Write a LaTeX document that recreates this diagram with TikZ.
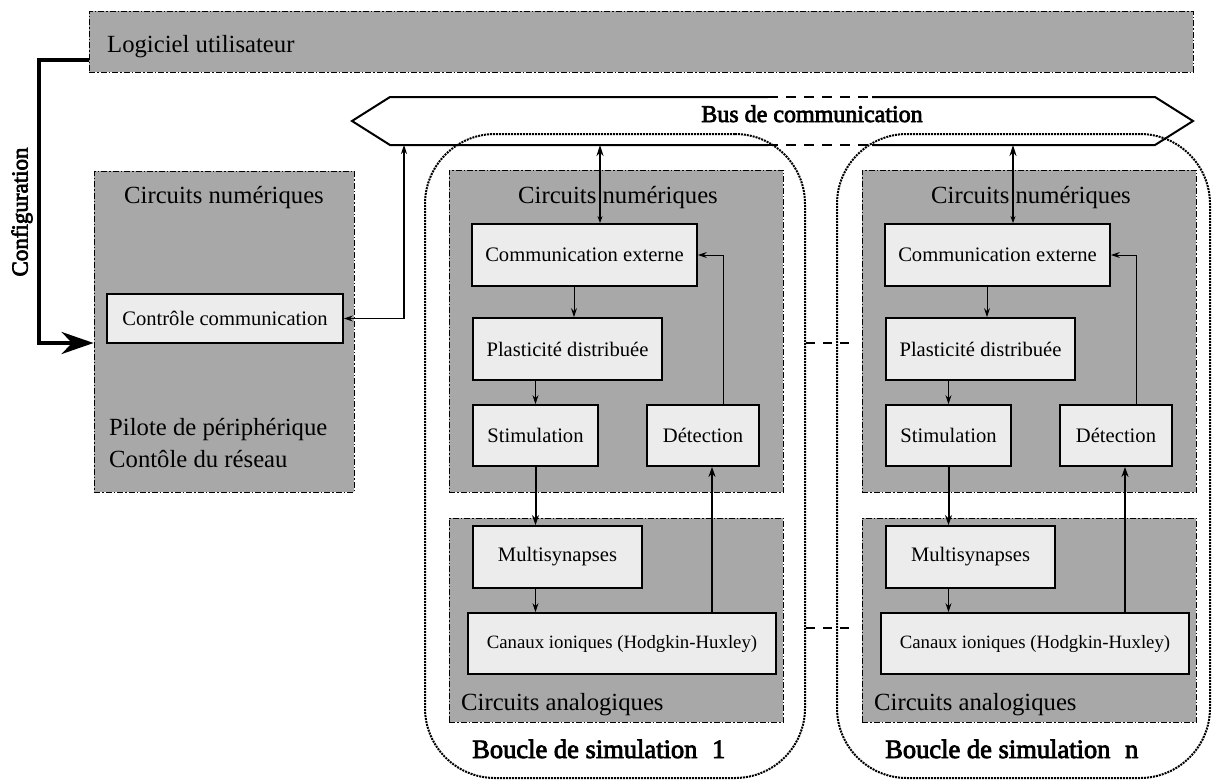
\documentclass[tikz,border=0pt]{standalone}
\usepackage{fontspec}
\setmainfont{Liberation Serif}
\newfontfamily\heavyfont{Liberation Serif}[FakeBold=3]
\usetikzlibrary{arrows.meta,calc}
\definecolor{panelgray}{RGB}{168,168,168}
\definecolor{blockfill}{RGB}{236,236,236}
\begin{document}
\begin{tikzpicture}[x=1pt,y=-1pt,
  panel/.style={draw, line width=0.8pt, fill=panelgray,
    dash pattern=on 6pt off 2pt on 1.5pt off 2pt, inner sep=0pt},
  block/.style={draw, line width=1.8pt, fill=blockfill, inner sep=0pt,
    font=\fontsize{20.6}{24}\selectfont},
  lbl/.style={inner sep=0pt, font=\fontsize{24.7}{29}\selectfont},
  heavy/.style={inner sep=0pt, font=\heavyfont\fontsize{24}{28}\selectfont},
  loopframe/.style={draw, rounded corners=70pt, line width=2pt,
    dash pattern=on 2pt off 1pt, inner sep=0pt},
  thin/.style={line width=1pt, -{Stealth[length=9pt,width=6pt]}},
  thick/.style={line width=2pt, -{Stealth[length=10pt,width=7pt]}},
  busline/.style={line width=2pt, line join=miter},
  busdash/.style={line width=2.4pt, dash pattern=on 10pt off 8pt},
  linkdash/.style={line width=2.6pt, dash pattern=on 9pt off 8pt},
  config/.style={line width=4pt, -{Stealth[length=32pt,width=22pt]}}
]
\useasboundingbox (0,0) rectangle (1215,782);

% user software bar
\node[panel, minimum width=1104pt, minimum height=61pt] (top) at (641,41.5) {};
\node[lbl, anchor=base west] (toplbl) at (107,52) {Logiciel utilisateur};

% host side digital circuits
\node[panel, minimum width=260pt, minimum height=321pt] (lbox) at (224,331.5) {};
\node[lbl, anchor=base] (lboxlbl) at (224,203) {Circuits numériques};
\node[block, minimum width=236pt, minimum height=49pt] (ctrl) at (225,318.5) {Contrôle communication};
\node[lbl, anchor=base west] (pilote) at (109,435) {Pilote de périphérique};
\node[lbl, anchor=base west] (reseau) at (109,467) {Contôle du réseau};

% simulation loops
\foreach \k/\dx/\num/\lc/\lw in {a/0/1/615/380, b/413/n/610.5/373}{
\begin{scope}[shift={(\dx,0)}]
  \node[loopframe, minimum width=\lw pt, minimum height=644pt] (loop\k) at (\lc,456) {};
  \node[panel, minimum width=334pt, minimum height=322pt] (dig\k) at (616,331) {};
  \node[lbl, anchor=base] (diglbl\k) at (618,203) {Circuits numériques};
  \node[panel, minimum width=334pt, minimum height=204pt] (ana\k) at (616,620) {};
  \node[lbl, anchor=base west] (analbl\k) at (461,710) {Circuits analogiques};
  \node[block, minimum width=225pt, minimum height=62pt] (comm\k) at (584.5,255) {Communication externe};
  \node[block, minimum width=189pt, minimum height=62pt] (plast\k) at (567.5,349) {Plasticité distribuée};
  \node[block, minimum width=125pt, minimum height=61pt] (stim\k) at (535.5,435.5) {Stimulation};
  \node[block, minimum width=112pt, minimum height=61pt] (det\k) at (703,435.5) {Détection};
  \node[block, minimum width=169pt, minimum height=62pt] (multi\k) at (557.5,557) {Multisynapses};
  \node[block, minimum width=308pt, minimum height=61pt, font=\fontsize{18.8}{22}\selectfont] (can\k) at (622,643.5) {Canaux ioniques (Hodgkin-Huxley)};
  \node[heavy, anchor=base west, font=\heavyfont\fontsize{26.5}{30}\selectfont] (boucle\k) at (472,758) {Boucle de simulation\hspace{0.55em}\num};
  % internal data flow
  \draw[thin] ([xshift=-10.5pt]comm\k.south) -- ([xshift=-10.5pt]comm\k.south |- plast\k.north);
  \draw[thin] (stim\k.north |- plast\k.south) -- (stim\k.north);
  \draw[thick] (stim\k.south) -- (stim\k.south |- multi\k.north);
  \draw[thin] (stim\k.south |- multi\k.south) -- (stim\k.south |- can\k.north);
  \draw[thick] ([xshift=9pt]det\k.south |- can\k.north) -- ([xshift=9pt]det\k.south);
  \draw[thin] ([xshift=20pt]det\k.north) |- (comm\k.east);
\end{scope}
}

% communication bus
\coordinate (busbot) at (390,145);
\coordinate (busleft) at (404,145);
\draw[busline] (768,97) -- (390,97) -- (352,121) -- (390,145) -- (768,145);
\draw[busline] (872,97) -- (1155,97) -- (1193,121) -- (1155,145) -- (872,145);
\draw[busdash] (768,97) -- (872,97);
\draw[busdash] (768,145) -- (872,145);
\node[heavy, anchor=base] (buslbl) at (812,122) {Bus de communication};

% bus links
\draw[line width=1.2pt, {Stealth[length=9pt,width=6pt]}-{Stealth[length=9pt,width=6pt]}] (ctrl.east) -| (busleft);
\foreach \k in {a,b}{
  \draw[line width=2pt, {Stealth[length=7pt,width=5pt]}-{Stealth[length=11pt,width=7pt]}]
    ([xshift=15.5pt]comm\k.north) -- ([xshift=15.5pt]comm\k.north |- busbot);
}

% ellipsis between loops
\draw[linkdash] (loopa.east |- 0,343) -- ++(43,0);
\draw[linkdash] (loopa.east |- 0,628) -- ++(43,0);

% configuration path
\draw[config] ([yshift=-18.5pt]top.west) -- ++(-50,0) |- ([yshift=-11.5pt]lbox.west);
\node[heavy, rotate=90, font=\heavyfont\fontsize{23}{27}\selectfont] (cfg) at (22,212) {Configuration};
\end{tikzpicture}
\end{document}
